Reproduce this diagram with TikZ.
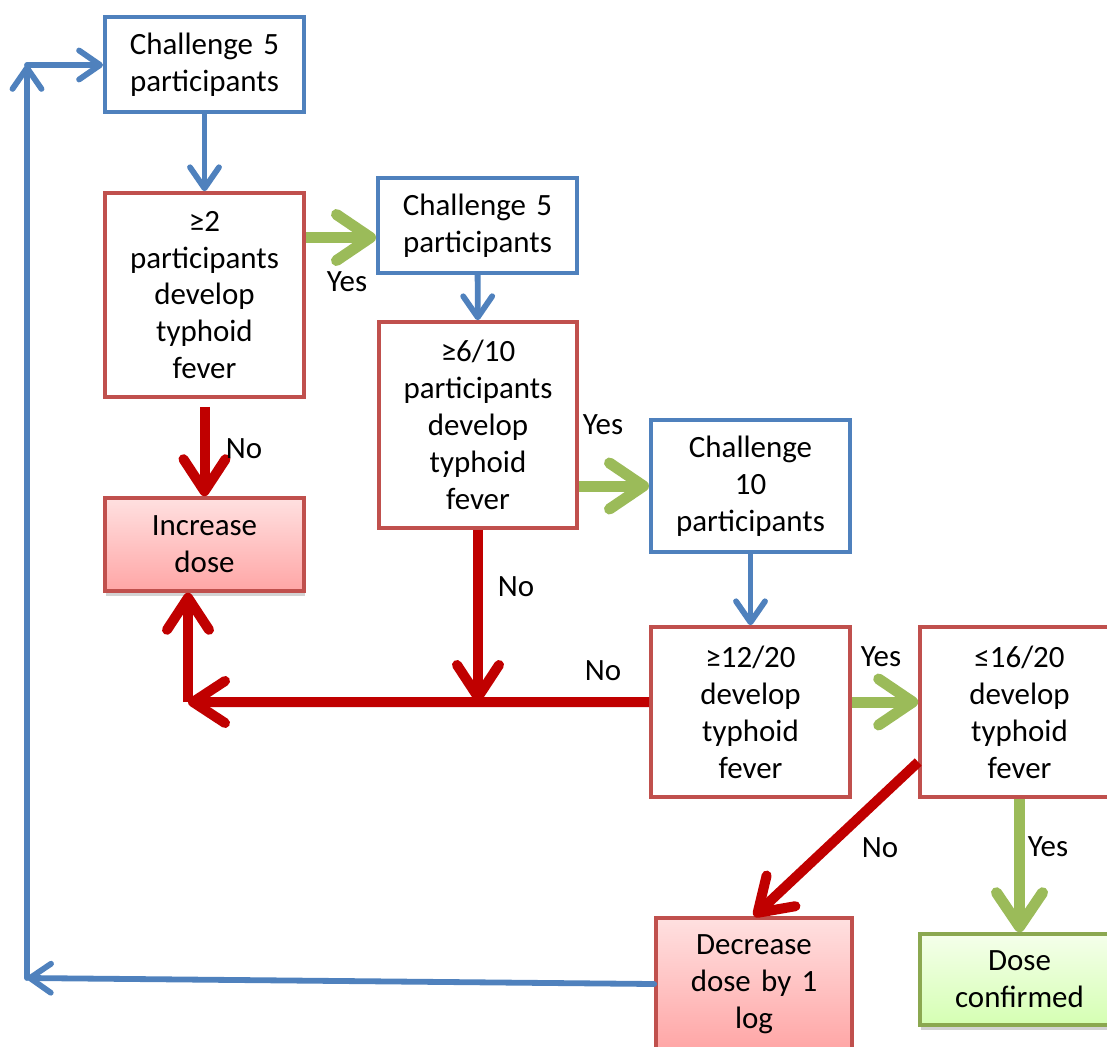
\documentclass[tikz,border=0pt]{standalone}
\usepackage{fontspec}
\setmainfont{Carlito}
\usetikzlibrary{arrows.meta,shadows}

\definecolor{boxblue}{HTML}{4F81BD}
\definecolor{boxred}{HTML}{C0504D}
\definecolor{arrred}{HTML}{C00000}
\definecolor{arrgreen}{HTML}{9BBB59}

\begin{document}
\begin{tikzpicture}[x=0.01cm, y=-0.01cm,
    font=\fontsize{8.8}{10.5}\selectfont,
    box/.style={rectangle, line width=1pt, fill=white, minimum width=1.99cm,
        text width=1.9cm, align=center, inner sep=0pt},
    challenge/.style={box, draw=boxblue, line width=1.1pt},
    test/.style={box, draw=boxred},
    redbox/.style={box, draw=boxred, top color=red!12, bottom color=red!35,
        drop shadow={shadow xshift=0.3pt, shadow yshift=-1.5pt, opacity=0.35}},
    greenbox/.style={box, draw=arrgreen!90!black, top color=green!50!yellow!8, bottom color=green!55!yellow!30,
        drop shadow={shadow xshift=0.3pt, shadow yshift=-1.5pt, opacity=0.35}},
    bluearr/.style={boxblue, line width=0.058cm, line cap=round,
        -{Straight Barb[length=0.21cm, width=0.29cm, round]}},
    redarr/.style={arrred, line width=0.1cm,
        -{Straight Barb[length=0.32cm, width=0.42cm, round]}},
    greenarr/.style={arrgreen, line width=0.11cm,
        -{Straight Barb[length=0.34cm, width=0.46cm, round]}},
    lbl/.style={inner sep=0pt}
]
\useasboundingbox (0,0) rectangle (1107,1046);

% Boxes
\node[challenge, minimum height=0.95cm] (c1) at (204.5,64.5) {Challenge 5\\participants};
\node[test, minimum height=2.04cm] (d1) at (204.5,295) {≥2\\participants\\develop\\typhoid\\fever};
\node[challenge, minimum height=0.95cm] (c2) at (477.5,225.5) {Challenge 5\\participants};
\node[test, minimum height=2.06cm, minimum width=1.98cm] (d2) at (478,425) {≥6/10\\participants\\develop\\typhoid\\fever};
\node[redbox, minimum height=0.93cm] (inc) at (204.5,544.5) {Increase\\dose};
\node[challenge, minimum height=1.32cm] (c3) at (750.5,486) {Challenge\\10\\participants};
\node[test, minimum height=1.70cm] (d3) at (750.5,712) {≥12/20\\develop\\typhoid\\fever};
\node[test, minimum height=1.70cm] (d4) at (1019.5,712) {≤16/20\\develop\\typhoid\\fever};
\node[redbox, minimum height=1.32cm, minimum width=1.96cm] (dec) at (754,984) {Decrease\\dose by 1\\log};
\node[greenbox, minimum height=0.91cm] (conf) at (1019.5,979.5) {Dose\\confirmed};

% Corners of the loops
\coordinate (jn) at (188,702);
\coordinate (lb) at (27,978);
\coordinate (lt) at (27,65);

% Arrows
\draw[bluearr] (c1) -- (d1);
\draw[greenarr] ([yshift=-0.12cm]c2.west -| d1.east) -- ([yshift=-0.12cm]c2.west);
\draw[bluearr] (c2) -- (d2);
\draw[redarr] ([yshift=-0.08cm]d1.south) -- (inc.north);
\draw[greenarr] (d2.east |- c3.west) -- (c3.west);
\draw[redarr] (d2.south) -- (d2.south |- jn);
\draw[bluearr] (c3) -- (d3);
\draw[redarr] ([yshift=0.1cm]d3.west) -- (jn);
\draw[redarr] (jn) -- (jn |- inc.south);
\draw[greenarr] ([yshift=0.1cm]d3.east) -- ([yshift=0.1cm]d4.west);
\draw[redarr] ([yshift=-0.5cm]d4.west) -- (dec.north);
\draw[greenarr] (d4) -- (conf);
\draw[bluearr] (dec.west) -- (lb);
\draw[bluearr] (lb) -- (lt);
\draw[bluearr] (lt) -- (c1.west |- lt);

% Labels
\node[lbl] (y1) at (347,282) {Yes};
\node[lbl] (n1) at (244,449) {No};
\node[lbl] (y2) at (603,425) {Yes};
\node[lbl] (n2) at (516,587) {No};
\node[lbl] (n3) at (603,671) {No};
\node[lbl] (y3) at (881,657) {Yes};
\node[lbl] (n4) at (880,848) {No};
\node[lbl] (y4) at (1048,847) {Yes};

\end{tikzpicture}
\end{document}
